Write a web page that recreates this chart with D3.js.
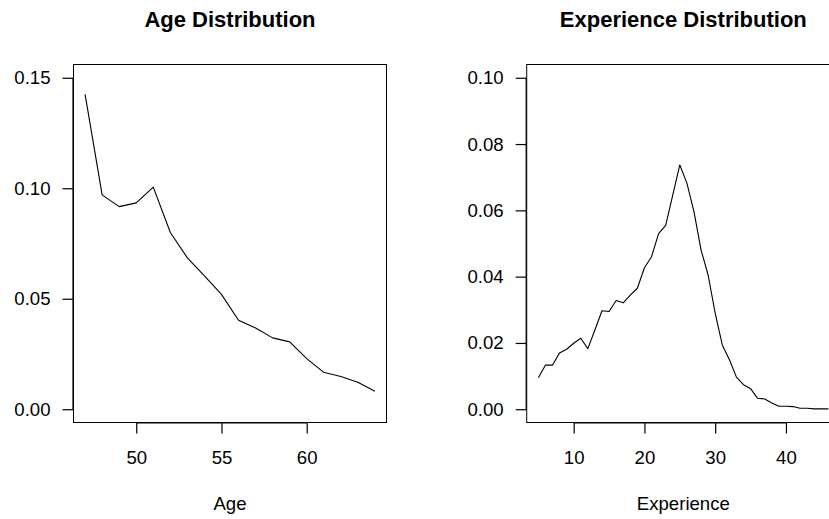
<!DOCTYPE html>
<html>
<head>
<meta charset="utf-8">
<script src="https://cdn.jsdelivr.net/npm/d3@7"></script>
<style>
body { margin: 0; background: #fff; }
svg { display: block; font-family: "Liberation Sans", Arial, Helvetica, sans-serif; }
</style>
</head>
<body>
<script>
// age density
var ages = d3.range(47, 65);
var ageDensity = [0.1425, 0.0970, 0.0917, 0.0934, 0.1005, 0.0800, 0.0685, 0.0604, 0.0520, 0.0403,
	0.0368, 0.0323, 0.0305, 0.0229, 0.0167, 0.0148, 0.0122, 0.0081];
var ageXTicks = [50, 55, 60];
var ageYTicks = [0, 0.05, 0.10, 0.15];

// experience density
var experience = d3.range(5, 47);
var expDensity = [0.0095, 0.0133, 0.0133, 0.0170, 0.0181, 0.0199, 0.0214, 0.0183, 0.0239, 0.0297,
	0.0295, 0.0328, 0.0321, 0.0344, 0.0365, 0.0427, 0.0460, 0.0530, 0.0555, 0.0646,
	0.0737, 0.0682, 0.0596, 0.0481, 0.0405, 0.0290, 0.0194, 0.0150, 0.0097, 0.0074,
	0.0062, 0.0033, 0.0031, 0.0019, 0.0009, 0.0009, 0.0008, 0.0003, 0.0003, 0.0001,
	0.0001, 0.0001];
var expXTicks = [10, 20, 30, 40];
var expYTicks = [0, 0.02, 0.04, 0.06, 0.08, 0.10];

var W = 829, H = 519;
var boxTop = 64.5, boxBottom = 422.5;

var svg = d3.select("body").append("svg")
	.attr("width", W)
	.attr("height", H);

// R style: pad limits by 4%
function pad(lim){
	var e = (lim[1] - lim[0]) * 0.04;
	return [lim[0] - e, lim[1] + e];
}

function panel(opt){
	var x = d3.scaleLinear().domain(pad(opt.xlim)).range([opt.left, opt.right]);
	var y = d3.scaleLinear().domain(pad(opt.ylim)).range([boxBottom, boxTop]);
	var g = svg.append("g");

	g.append("path")
		.datum(d3.zip(opt.xs, opt.ys))
		.attr("fill", "none")
		.attr("stroke", "#000")
		.attr("stroke-width", 1.1)
		.attr("stroke-linejoin", "round")
		.attr("d", d3.line().x(function(d){ return x(d[0]); }).y(function(d){ return y(d[1]); }));

	g.append("rect")
		.attr("x", opt.left).attr("y", boxTop)
		.attr("width", opt.right - opt.left).attr("height", boxBottom - boxTop)
		.attr("fill", "none").attr("stroke", "#000").attr("stroke-width", 1);

	var xa = g.append("g")
		.attr("transform", "translate(0," + boxBottom + ")")
		.call(d3.axisBottom(x).tickValues(opt.xticks).tickSize(11).tickPadding(17).tickFormat(d3.format("d")));
	xa.select(".domain").attr("d", "M" + x(opt.xticks[0]) + ",0.5H" + x(opt.xticks[opt.xticks.length - 1]))
		.attr("stroke-width", 1.2);
	xa.selectAll("text").attr("font-size", 18.6).attr("font-family", null).attr("fill", "#000");

	var ya = g.append("g")
		.attr("transform", "translate(" + opt.left + ",0)")
		.call(d3.axisLeft(y).tickValues(opt.yticks).tickSize(11).tickPadding(12).tickFormat(d3.format(".2f")));
	ya.select(".domain").attr("d", "M-0.5," + y(opt.yticks[0]) + "V" + y(opt.yticks[opt.yticks.length - 1]))
		.attr("stroke-width", 1.2);
	ya.selectAll("text").attr("font-size", 18.6).attr("font-family", null).attr("fill", "#000");
	g.selectAll(".tick line").attr("stroke-width", 1.2);

	var cx = (opt.left + opt.right) / 2;
	g.append("text")
		.attr("x", cx).attr("y", 27)
		.attr("text-anchor", "middle")
		.attr("font-size", 22)
		.attr("font-weight", "bold")
		.text(opt.title);

	g.append("text")
		.attr("x", cx).attr("y", 510)
		.attr("text-anchor", "middle")
		.attr("font-size", 18.6)
		.text(opt.xlabel);
}

panel({
	left: 73.5, right: 386.5,
	xlim: [47, 64], ylim: [0, 0.15],
	xs: ages, ys: ageDensity,
	xticks: ageXTicks, yticks: ageYTicks,
	title: "Age Distribution", xlabel: "Age"
});

panel({
	left: 526.7, right: 840,
	xlim: [5, 46], ylim: [0, 0.10],
	xs: experience, ys: expDensity,
	xticks: expXTicks, yticks: expYTicks,
	title: "Experience Distribution", xlabel: "Experience"
});
</script>
</body>
</html>
